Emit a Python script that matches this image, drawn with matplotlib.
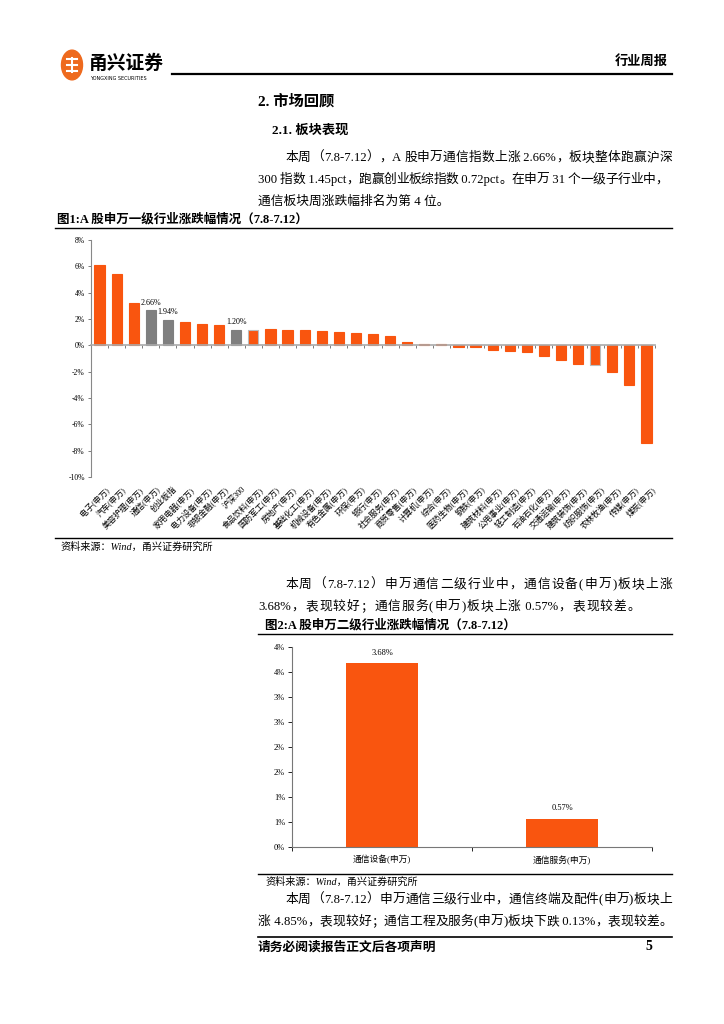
import numpy as np
import matplotlib.pyplot as plt
from matplotlib.lines import Line2D
from matplotlib.patches import Circle

plt.rcParams['font.family'] = ['Liberation Serif', 'Noto Sans CJK SC']

W, H = 724, 1024

# ---- data -------------------------------------------------------------
industries = ['电子(申万)', '汽车(申万)', '美容护理(申万)', '通信(申万)', '创业板指',
              '家用电器(申万)', '电力设备(申万)', '非银金融(申万)', '沪深300',
              '食品饮料(申万)', '国防军工(申万)', '房地产(申万)', '基础化工(申万)',
              '机械设备(申万)', '有色金属(申万)', '环保(申万)', '银行(申万)',
              '社会服务(申万)', '商贸零售(申万)', '计算机(申万)', '综合(申万)',
              '医药生物(申万)', '钢铁(申万)', '建筑材料(申万)', '公用事业(申万)',
              '轻工制造(申万)', '石油石化(申万)', '交通运输(申万)', '建筑装饰(申万)',
              '纺织服饰(申万)', '农林牧渔(申万)', '传媒(申万)', '煤炭(申万)']
changes = [6.13, 5.42, 3.19, 2.66, 1.94, 1.75, 1.65, 1.52, 1.20, 1.19, 1.21,
           1.16, 1.13, 1.09, 1.04, 0.95, 0.87, 0.68, 0.28, 0.13, 0.08, -0.15,
           -0.15, -0.38, -0.45, -0.50, -0.80, -1.12, -1.40, -1.47, -2.05,
           -2.98, -7.45]
grey_names = ['通信(申万)', '创业板指', '沪深300']
outlined_names = ['食品饮料(申万)', '纺织服饰(申万)']

sub_names = ['通信设备(申万)', '通信服务(申万)']
sub_changes = [3.68, 0.57]
sub_ticks = [0, 0.5, 1, 1.5, 2, 2.5, 3, 3.5, 4]
sub_tick_labels = ['0%', '1%', '1%', '2%', '2%', '3%', '3%', '4%', '4%']

ORANGE = '#F9550F'
GREY = '#7F7F7F'

fig = plt.figure(figsize=(W / 100, H / 100), dpi=100)


def fx(x):
    return x / W


def fy(y):
    return 1 - y / H


def hline(x0, x1, y, lw=1.0, color='black'):
    fig.add_artist(Line2D([fx(x0), fx(x1)], [fy(y), fy(y)], lw=lw, color=color))


def put(x, y, s, size=9, **kw):
    fig.text(fx(x), fy(y), s, fontsize=size, va='center', **kw)


def tokens(line):
    out, buf = [], ''
    for ch in line:
        if ord(ch) < 128:
            buf += ch
        else:
            if buf:
                out.append(buf)
                buf = ''
            out.append(ch)
    if buf:
        out.append(buf)
    return out


def justify(line, x0, x1, y, size=9.2):
    # spread the tokens of one line evenly between x0 and x1
    rend = fig.canvas.get_renderer()
    parts = tokens(line)
    objs = [fig.text(0, fy(y), p, fontsize=size, va='center') for p in parts]
    widths = [o.get_window_extent(rend).width for o in objs]
    gap = (x1 - x0 - sum(widths)) / max(len(parts) - 1, 1)
    x = x0
    for o, w in zip(objs, widths):
        o.set_x(fx(x))
        x += w + gap


# ---- page header ------------------------------------------------------
fig.add_artist(Circle((fx(72), fy(65)), 10.5 / W, transform=fig.transFigure,
                      color='#EE6A1E', zorder=3))
for yy in (59, 65, 71):
    fig.add_artist(Line2D([fx(67), fx(77)], [fy(yy), fy(yy)], color='white', lw=1.5, zorder=4))
fig.add_artist(Line2D([fx(72), fx(72)], [fy(58), fy(72)], color='white', lw=1.5, zorder=4))
put(89, 63, '甬兴证券', size=13.5, fontweight='bold', family=['Noto Sans CJK SC'])
put(90, 78, 'YONGXING SECURITIES', size=3.5, family=['DejaVu Sans'])
hline(172, 672, 74, lw=1.6)
put(668, 62, '行业周报', size=9.5, fontweight='bold', ha='right')

put(258, 101, '2. 市场回顾', size=11, fontweight='bold')
put(272, 131, '2.1. 板块表现', size=9.5, fontweight='bold')
justify('本周（7.8-7.12），A 股申万通信指数上涨 2.66%，板块整体跑赢沪深', 285, 672, 158)
justify('300 指数 1.45pct，跑赢创业板综指数 0.72pct。在申万 31 个一级子行业中，', 258, 668, 180)
put(258, 202, '通信板块周涨跌幅排名为第 4 位。', size=9.2)

put(57, 219, '图1:A 股申万一级行业涨跌幅情况（7.8-7.12）', size=9, fontweight='bold')
hline(55, 672, 228, lw=1.0)

# ---- chart 1 ----------------------------------------------------------
ax1 = fig.add_axes([fx(91), fy(477), (655 - 91) / W, (477 - 240) / H])
pos = np.arange(len(industries))
colors = [GREY if n in grey_names else ORANGE for n in industries]
edges = ['#BBBBBB' if n in outlined_names else c for n, c in zip(industries, colors)]
ax1.bar(pos, changes, width=0.6, color=colors, edgecolor=edges, linewidth=0.8, zorder=2)
ax1.set_xlim(-0.5, len(industries) - 0.5)
ax1.set_ylim(-10, 8)
yt = np.arange(-10, 9, 2)
ax1.set_yticks(yt)
ax1.set_yticklabels([f'{v}%' for v in yt], fontsize=5.5)
ax1.set_xticks(np.arange(-0.5, len(industries), 1))
ax1.set_xticklabels([])
ax1.tick_params(axis='both', direction='out', length=2.5, width=0.6, color='#666666', pad=2)
for s in ('top', 'right'):
    ax1.spines[s].set_visible(False)
ax1.spines['left'].set_color('#888888')
ax1.spines['left'].set_linewidth(0.8)
ax1.spines['bottom'].set_position(('data', 0))
ax1.spines['bottom'].set_color('#AAAAAA')
ax1.spines['bottom'].set_linewidth(1.2)
for p, n, v in zip(pos, industries, changes):
    ax1.text(p + 0.3, -0.035, n, transform=ax1.get_xaxis_transform(), rotation=45,
             rotation_mode='anchor', ha='right', va='top', fontsize=5.9)
    if n in grey_names:
        ax1.text(p, v + 0.25, f'{v:.2f}%', ha='center', va='bottom', fontsize=5.8)

hline(55, 672, 538, lw=1.0)
put(60, 547, '资料来源：Wind，甬兴证券研究所', size=7.3, style='italic')

justify('本周（7.8-7.12）申万通信二级行业中，通信设备(申万)板块上涨', 285, 672, 585)
justify('3.68%，表现较好；通信服务(申万)板块上涨 0.57%，表现较差。', 258, 640, 607)
put(265, 625, '图2:A 股申万二级行业涨跌幅情况（7.8-7.12）', size=9, fontweight='bold')
hline(258, 672, 634, lw=1.0)

# ---- chart 2 ----------------------------------------------------------
ax2 = fig.add_axes([fx(292), fy(847), (652 - 292) / W, (847 - 647) / H])
p2 = np.arange(len(sub_names))
ax2.bar(p2, sub_changes, width=0.405, color=ORANGE, zorder=2)
ax2.set_xlim(-0.5, len(sub_names) - 0.5)
ax2.set_ylim(0, 4)
ax2.set_yticks(sub_ticks)
ax2.set_yticklabels(sub_tick_labels, fontsize=6)
ax2.set_xticks(p2)
ax2.set_xticklabels(sub_names, fontsize=6.3)
ax2.set_xticks(np.arange(-0.5, len(sub_names), 1), minor=True)
ax2.tick_params(axis='x', which='major', length=0, pad=6)
ax2.tick_params(axis='x', which='minor', direction='out', length=3, width=0.6)
ax2.tick_params(axis='y', direction='out', length=3, width=0.6, pad=2)
for s in ('top', 'right'):
    ax2.spines[s].set_visible(False)
for s in ('left', 'bottom'):
    ax2.spines[s].set_color('#777777')
    ax2.spines[s].set_linewidth(0.8)
for p, v in zip(p2, sub_changes):
    ax2.text(p, v + 0.12, f'{v:.2f}%', ha='center', va='bottom', fontsize=6)

hline(258, 672, 874, lw=1.0)
put(265, 882, '资料来源：Wind，甬兴证券研究所', size=7.3, style='italic')
justify('本周（7.8-7.12）申万通信三级行业中，通信终端及配件(申万)板块上', 285, 672, 900)
justify('涨 4.85%，表现较好；通信工程及服务(申万)板块下跌 0.13%，表现较差。', 258, 672, 922)
hline(258, 672, 937, lw=1.2)
put(258, 947, '请务必阅读报告正文后各项声明', size=9.2, fontweight='bold')
put(652, 947, '5', size=10, fontweight='bold', ha='right')

fig.savefig('out.png', dpi=100)
